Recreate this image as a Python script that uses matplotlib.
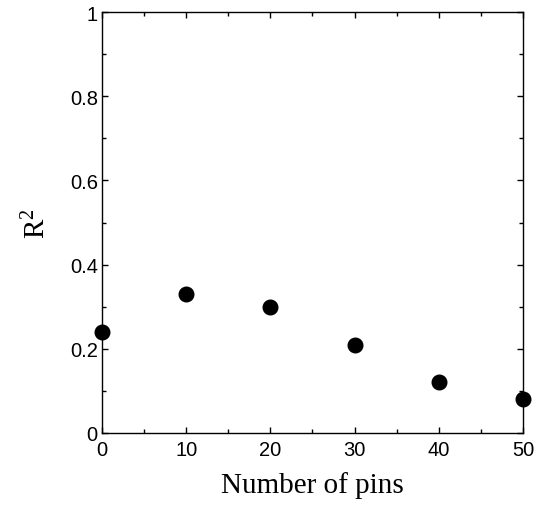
import matplotlib
matplotlib.use("Agg")
import matplotlib.pyplot as plt
from matplotlib.ticker import MultipleLocator

# data
pins = [0, 10, 20, 30, 40, 50]
r2 = [0.24, 0.33, 0.30, 0.21, 0.12, 0.08]
yticks = [0, 0.2, 0.4, 0.6, 0.8, 1]
ytick_labels = ["0", "0.2", "0.4", "0.6", "0.8", "1"]

plt.rcParams["font.family"] = "Liberation Sans"
plt.rcParams["mathtext.fontset"] = "custom"
plt.rcParams["mathtext.rm"] = "Liberation Serif"
plt.rcParams["mathtext.it"] = "Liberation Serif"

fig = plt.figure(figsize=(5.36, 5.06), dpi=100)
ax = fig.add_axes([0.1903, 0.1423, 0.7854, 0.832])

ax.plot(pins, r2, "o", color="k", ms=10.5, clip_on=False, zorder=5)

ax.set_xlim(0, 50)
ax.set_ylim(0, 1)
ax.xaxis.set_major_locator(MultipleLocator(10))
ax.xaxis.set_minor_locator(MultipleLocator(5))
ax.set_yticks(yticks)
ax.set_yticklabels(ytick_labels)
ax.yaxis.set_minor_locator(MultipleLocator(0.1))
ax.tick_params(which="both", direction="in", top=True, right=True,
               labelsize=14.5, width=1)
ax.tick_params(axis="x", pad=5)
ax.tick_params(axis="y", pad=3)
ax.tick_params(which="major", length=4)
ax.tick_params(which="minor", length=3)
for s in ax.spines.values():
    s.set_linewidth(1)

ax.set_xlabel("Number of pins", fontsize=21, family="Liberation Serif", labelpad=9)
ax.set_ylabel("R$^{2}$", fontsize=21, family="Liberation Serif", labelpad=13)

fig.savefig("out.png", dpi=100)
